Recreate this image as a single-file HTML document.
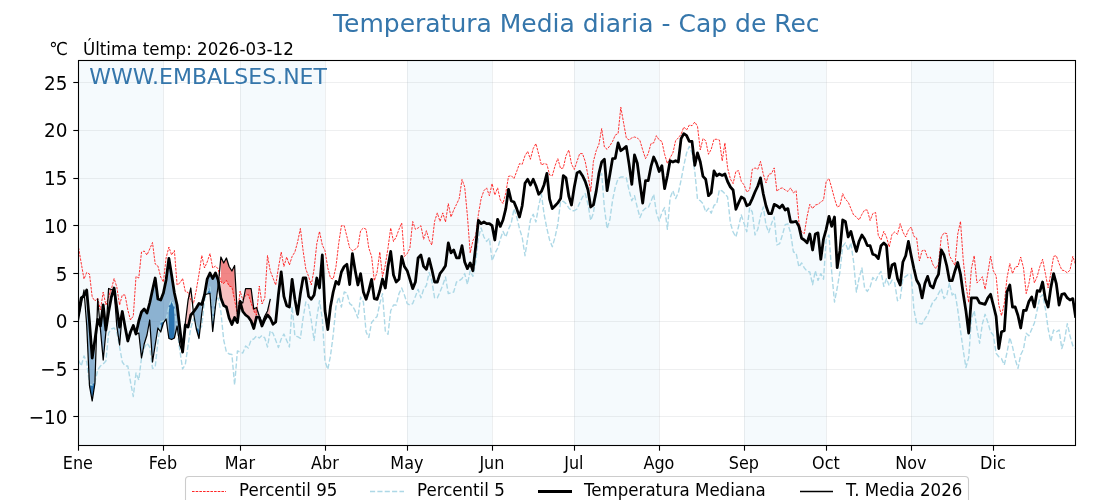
<!DOCTYPE html>
<html lang="es"><head><meta charset="utf-8"><title>Temperatura Media diaria - Cap de Rec</title>
<style>html,body{margin:0;padding:0;background:#fff;}body{width:1120px;height:500px;overflow:hidden;}svg{display:block;}text{font-family:"DejaVu Sans","Liberation Sans",sans-serif;}</style>
</head><body>
<svg width="1120" height="500" viewBox="0 0 1120 500">
<rect width="1120" height="500" fill="#ffffff"/>
<defs><clipPath id="ax"><rect x="78.5" y="60.5" width="997.0" height="385.0"/></clipPath></defs>
<g clip-path="url(#ax)">
<rect x="78.50" y="60.5" width="84.91" height="385.0" fill="#f5fafd"/>
<rect x="240.10" y="60.5" width="84.91" height="385.0" fill="#f5fafd"/>
<rect x="407.18" y="60.5" width="84.91" height="385.0" fill="#f5fafd"/>
<rect x="574.26" y="60.5" width="84.91" height="385.0" fill="#f5fafd"/>
<rect x="744.08" y="60.5" width="82.17" height="385.0" fill="#f5fafd"/>
<rect x="911.16" y="60.5" width="82.17" height="385.0" fill="#f5fafd"/>
<line x1="78.5" x2="1075.5" y1="416.50" y2="416.50" stroke="#aab0b6" stroke-opacity="0.2" stroke-width="1"/>
<line x1="78.5" x2="1075.5" y1="369.50" y2="369.50" stroke="#aab0b6" stroke-opacity="0.2" stroke-width="1"/>
<line x1="78.5" x2="1075.5" y1="321.50" y2="321.50" stroke="#aab0b6" stroke-opacity="0.2" stroke-width="1"/>
<line x1="78.5" x2="1075.5" y1="273.50" y2="273.50" stroke="#aab0b6" stroke-opacity="0.2" stroke-width="1"/>
<line x1="78.5" x2="1075.5" y1="225.50" y2="225.50" stroke="#aab0b6" stroke-opacity="0.2" stroke-width="1"/>
<line x1="78.5" x2="1075.5" y1="178.50" y2="178.50" stroke="#aab0b6" stroke-opacity="0.2" stroke-width="1"/>
<line x1="78.5" x2="1075.5" y1="130.50" y2="130.50" stroke="#aab0b6" stroke-opacity="0.2" stroke-width="1"/>
<line x1="78.5" x2="1075.5" y1="82.50" y2="82.50" stroke="#aab0b6" stroke-opacity="0.2" stroke-width="1"/>
<line x1="78.50" x2="78.50" y1="60.5" y2="445.5" stroke="#aab0b6" stroke-opacity="0.2" stroke-width="1"/>
<line x1="163.50" x2="163.50" y1="60.5" y2="445.5" stroke="#aab0b6" stroke-opacity="0.2" stroke-width="1"/>
<line x1="240.50" x2="240.50" y1="60.5" y2="445.5" stroke="#aab0b6" stroke-opacity="0.2" stroke-width="1"/>
<line x1="325.50" x2="325.50" y1="60.5" y2="445.5" stroke="#aab0b6" stroke-opacity="0.2" stroke-width="1"/>
<line x1="407.50" x2="407.50" y1="60.5" y2="445.5" stroke="#aab0b6" stroke-opacity="0.2" stroke-width="1"/>
<line x1="492.50" x2="492.50" y1="60.5" y2="445.5" stroke="#aab0b6" stroke-opacity="0.2" stroke-width="1"/>
<line x1="574.50" x2="574.50" y1="60.5" y2="445.5" stroke="#aab0b6" stroke-opacity="0.2" stroke-width="1"/>
<line x1="659.50" x2="659.50" y1="60.5" y2="445.5" stroke="#aab0b6" stroke-opacity="0.2" stroke-width="1"/>
<line x1="744.50" x2="744.50" y1="60.5" y2="445.5" stroke="#aab0b6" stroke-opacity="0.2" stroke-width="1"/>
<line x1="826.50" x2="826.50" y1="60.5" y2="445.5" stroke="#aab0b6" stroke-opacity="0.2" stroke-width="1"/>
<line x1="911.50" x2="911.50" y1="60.5" y2="445.5" stroke="#aab0b6" stroke-opacity="0.2" stroke-width="1"/>
<line x1="993.50" x2="993.50" y1="60.5" y2="445.5" stroke="#aab0b6" stroke-opacity="0.2" stroke-width="1"/>
<path d="M78.5 320.0 L81.2 305.0 L81.2 298.0 L78.5 313.0Z" fill="#4682b4" fill-opacity="0.6" stroke="none"/>
<path d="M86.7 325.0 L89.5 386.0 L92.2 401.0 L94.9 383.5 L94.9 340.0 L92.2 358.0 L89.5 322.0 L86.7 290.0Z" fill="#4682b4" fill-opacity="0.6" stroke="none"/>
<path d="M100.4 329.0 L103.2 360.0 L105.9 332.0 L105.9 330.0 L103.2 305.0 L100.4 326.0Z" fill="#4682b4" fill-opacity="0.6" stroke="none"/>
<path d="M114.1 290.0 L116.8 326.0 L119.6 345.0 L122.3 313.0 L122.3 311.5 L119.6 327.0 L116.8 308.0 L114.1 288.0Z" fill="#4682b4" fill-opacity="0.6" stroke="none"/>
<path d="M138.8 333.0 L141.5 358.0 L144.2 344.0 L147.0 335.0 L149.7 320.0 L152.5 362.0 L155.2 345.0 L157.9 328.0 L160.7 332.0 L163.4 323.0 L166.1 319.0 L168.9 338.5 L171.6 339.5 L174.4 338.0 L177.1 326.0 L179.8 345.0 L179.8 328.0 L177.1 305.0 L174.4 293.0 L171.6 275.0 L168.9 258.5 L166.1 280.0 L163.4 293.0 L160.7 300.0 L157.9 299.0 L155.2 278.0 L152.5 290.0 L149.7 303.0 L147.0 313.0 L144.2 309.0 L141.5 312.0 L138.8 321.0Z" fill="#4682b4" fill-opacity="0.6" stroke="none"/>
<path d="M193.5 313.0 L196.3 329.0 L199.0 338.5 L201.8 313.0 L201.8 304.5 L199.0 303.5 L196.3 308.0 L193.5 312.0Z" fill="#4682b4" fill-opacity="0.6" stroke="none"/>
<path d="M207.2 294.0 L210.0 293.5 L212.7 331.5 L215.5 306.0 L218.2 285.0 L218.2 280.0 L215.5 273.0 L212.7 278.5 L210.0 273.0 L207.2 279.0Z" fill="#4682b4" fill-opacity="0.6" stroke="none"/>
<path d="M89.5 386.0 L92.2 401.0 L94.9 383.5 L94.9 382.0 L92.2 385.0 L89.5 384.5Z" fill="#1f6cab" fill-opacity="0.9" stroke="none"/>
<path d="M160.7 332.0 L163.4 323.0 L163.4 321.0 L160.7 322.0Z" fill="#1f6cab" fill-opacity="0.9" stroke="none"/>
<path d="M168.9 338.5 L171.6 339.5 L174.4 338.0 L174.4 306.5 L171.6 300.0 L168.9 306.5Z" fill="#1f6cab" fill-opacity="0.9" stroke="none"/>
<path d="M196.3 329.0 L199.0 338.5 L199.0 330.0 L196.3 325.0Z" fill="#1f6cab" fill-opacity="0.9" stroke="none"/>
<path d="M207.2 294.0 L210.0 293.5 L212.7 331.5 L215.5 306.0 L215.5 300.0 L212.7 322.0 L210.0 287.0 L207.2 292.0Z" fill="#1f6cab" fill-opacity="0.9" stroke="none"/>
<path d="M108.6 288.5 L111.4 289.5 L111.4 297.0 L108.6 312.0Z" fill="#f08080" fill-opacity="0.5" stroke="none"/>
<path d="M185.3 323.0 L188.1 300.0 L190.8 288.0 L190.8 315.0 L188.1 327.0 L185.3 325.0Z" fill="#f08080" fill-opacity="0.5" stroke="none"/>
<path d="M220.9 257.0 L223.7 263.0 L226.4 258.0 L229.1 266.5 L231.9 271.0 L234.6 265.5 L237.4 317.0 L240.1 301.0 L242.8 303.0 L245.6 288.5 L248.3 288.5 L251.1 288.5 L253.8 309.0 L256.5 307.5 L259.3 316.0 L262.0 323.0 L264.8 316.0 L267.5 311.0 L270.2 299.5 L270.2 318.0 L267.5 315.0 L264.8 319.5 L262.0 326.0 L259.3 317.5 L256.5 317.0 L253.8 328.5 L251.1 321.0 L248.3 317.0 L245.6 315.0 L242.8 311.5 L240.1 301.5 L237.4 322.5 L234.6 317.5 L231.9 324.5 L229.1 318.0 L226.4 307.0 L223.7 305.5 L220.9 298.0Z" fill="#f08080" fill-opacity="0.5" stroke="none"/>
<path d="M220.9 257.0 L223.7 263.0 L226.4 258.0 L229.1 266.5 L231.9 271.0 L234.6 265.5 L234.6 300.0 L231.9 287.0 L229.1 286.0 L226.4 280.5 L223.7 283.5 L220.9 282.0Z" fill="#e84040" fill-opacity="0.45" stroke="none"/>
<path d="M245.6 288.5 L248.3 288.5 L251.1 288.5 L253.8 309.0 L256.5 307.5 L256.5 315.0 L253.8 311.0 L251.1 303.0 L248.3 294.5 L245.6 295.5Z" fill="#e84040" fill-opacity="0.45" stroke="none"/>
<path d="M78.5 247.5 L81.2 263.0 L84.0 279.0 L86.7 272.5 L89.5 274.0 L92.2 297.0 L94.9 301.0 L97.7 298.0 L100.4 310.0 L103.2 292.0 L105.9 305.0 L108.6 297.0 L111.4 289.0 L114.1 278.5 L116.8 287.0 L119.6 305.0 L122.3 295.0 L125.1 295.0 L127.8 310.0 L130.5 320.0 L133.3 316.0 L136.0 276.5 L138.8 278.0 L141.5 252.0 L144.2 251.0 L147.0 255.0 L149.7 249.0 L152.5 242.5 L155.2 264.0 L157.9 266.0 L160.7 277.0 L163.4 282.0 L166.1 258.0 L168.9 247.0 L171.6 255.0 L174.4 250.5 L177.1 285.0 L179.8 283.0 L182.6 278.5 L185.3 291.5 L188.1 292.5 L190.8 300.0 L193.5 303.5 L196.3 290.0 L199.0 274.0 L201.8 255.5 L204.5 268.0 L207.2 262.0 L210.0 253.5 L212.7 268.0 L215.5 266.0 L218.2 269.0 L220.9 282.0 L223.7 283.5 L226.4 280.5 L229.1 286.0 L231.9 287.0 L234.6 300.0 L237.4 314.0 L240.1 291.0 L242.8 300.0 L245.6 295.5 L248.3 294.5 L251.1 303.0 L253.8 311.0 L256.5 315.0 L259.3 286.0 L262.0 304.0 L264.8 298.0 L267.5 255.5 L270.2 270.7 L273.0 278.0 L275.7 285.0 L278.4 268.0 L281.2 252.0 L283.9 266.5 L286.7 257.0 L289.4 265.0 L292.1 256.5 L294.9 252.0 L297.6 242.0 L300.4 228.5 L303.1 250.7 L305.8 269.0 L308.6 276.5 L311.3 285.0 L314.1 269.0 L316.8 243.5 L319.5 231.5 L322.3 245.0 L325.0 250.7 L327.8 268.0 L330.5 278.0 L333.2 279.0 L336.0 266.5 L338.7 243.5 L341.4 225.7 L344.2 225.7 L346.9 236.5 L349.7 248.0 L352.4 250.7 L355.1 249.3 L357.9 247.0 L360.6 230.7 L363.4 228.0 L366.1 229.3 L368.8 248.0 L371.6 256.5 L374.3 280.7 L377.1 272.0 L379.8 252.0 L382.5 276.5 L385.3 265.0 L388.0 248.0 L390.7 228.0 L393.5 241.5 L396.2 237.0 L399.0 229.3 L401.7 223.0 L404.4 256.5 L407.2 253.6 L409.9 248.0 L412.7 221.5 L415.4 229.3 L418.1 228.0 L420.9 225.7 L423.6 239.3 L426.4 230.7 L429.1 240.0 L431.8 245.0 L434.6 221.4 L437.3 212.9 L440.0 221.4 L442.8 212.9 L445.5 222.0 L448.3 203.6 L451.0 217.0 L453.7 210.0 L456.5 204.3 L459.2 198.6 L462.0 179.5 L464.7 187.0 L467.4 215.7 L470.2 253.0 L472.9 240.7 L475.7 235.7 L478.4 214.3 L481.1 198.6 L483.9 190.7 L486.6 187.9 L489.4 195.7 L492.1 183.6 L494.8 195.0 L497.6 187.9 L500.3 200.0 L503.0 203.6 L505.8 193.0 L508.5 176.4 L511.3 175.7 L514.0 178.6 L516.7 171.4 L519.5 163.6 L522.2 164.3 L525.0 155.7 L527.7 151.4 L530.4 159.3 L533.2 148.6 L535.9 143.6 L538.7 154.3 L541.4 165.0 L544.1 163.6 L546.9 164.3 L549.6 175.0 L552.3 175.7 L555.1 165.7 L557.8 158.6 L560.6 168.6 L563.3 167.9 L566.0 155.7 L568.8 150.0 L571.5 164.0 L574.3 169.5 L577.0 161.4 L579.7 153.6 L582.5 153.6 L585.2 161.4 L588.0 175.7 L590.7 191.4 L593.4 161.4 L596.2 150.7 L598.9 144.3 L601.7 128.6 L604.4 147.0 L607.1 149.3 L609.9 145.7 L612.6 141.4 L615.3 135.0 L618.1 133.6 L620.8 107.2 L623.6 122.9 L626.3 137.9 L629.0 140.0 L631.8 137.9 L634.5 137.0 L637.3 137.9 L640.0 140.7 L642.7 150.0 L645.5 158.6 L648.2 153.6 L651.0 143.6 L653.7 142.9 L656.4 135.7 L659.2 140.0 L661.9 141.4 L664.6 154.3 L667.4 163.6 L670.1 157.9 L672.9 152.9 L675.6 140.7 L678.3 137.9 L681.1 134.3 L683.8 127.0 L686.6 130.0 L689.3 125.0 L692.0 125.7 L694.8 122.0 L697.5 126.4 L700.3 150.0 L703.0 138.6 L705.7 140.7 L708.5 154.3 L711.2 149.3 L714.0 139.3 L716.7 139.3 L719.4 140.0 L722.2 161.0 L724.9 142.9 L727.6 168.0 L730.4 179.0 L733.1 183.6 L735.9 171.4 L738.6 170.7 L741.3 181.4 L744.1 185.0 L746.8 192.0 L749.6 190.0 L752.3 169.3 L755.0 167.9 L757.8 169.3 L760.5 161.4 L763.3 174.3 L766.0 182.9 L768.7 174.3 L771.5 173.6 L774.2 167.9 L776.9 191.4 L779.7 188.6 L782.4 187.9 L785.2 190.0 L787.9 191.4 L790.6 187.9 L793.4 192.9 L796.1 190.7 L798.9 222.0 L801.6 232.0 L804.3 233.6 L807.1 216.4 L809.8 204.3 L812.6 208.6 L815.3 205.0 L818.0 204.3 L820.8 202.0 L823.5 200.0 L826.2 181.4 L829.0 178.6 L831.7 187.9 L834.5 198.6 L837.2 207.0 L839.9 205.7 L842.7 193.6 L845.4 199.3 L848.2 202.0 L850.9 208.6 L853.6 215.0 L856.4 217.0 L859.1 220.0 L861.9 214.3 L864.6 210.0 L867.3 210.0 L870.1 220.5 L872.8 213.6 L875.6 212.5 L878.3 235.5 L881.0 240.0 L883.8 231.4 L886.5 237.0 L889.2 247.0 L892.0 234.3 L894.7 232.0 L897.5 234.3 L900.2 223.6 L902.9 232.0 L905.7 237.0 L908.4 230.0 L911.2 227.0 L913.9 236.4 L916.6 237.9 L919.4 261.0 L922.1 250.7 L924.9 250.0 L927.6 257.9 L930.3 257.0 L933.1 265.0 L935.8 268.6 L938.5 264.0 L941.3 237.0 L944.0 232.9 L946.8 233.6 L949.5 255.7 L952.2 260.7 L955.0 265.4 L957.7 234.3 L960.5 221.4 L963.2 259.6 L965.9 285.0 L968.7 302.5 L971.4 268.6 L974.2 255.7 L976.9 282.9 L979.6 280.4 L982.4 276.7 L985.1 289.3 L987.9 272.9 L990.6 256.0 L993.3 270.7 L996.1 275.7 L998.8 305.0 L1001.5 315.7 L1004.3 303.4 L1007.0 277.9 L1009.8 263.6 L1012.5 273.6 L1015.2 267.0 L1018.0 266.4 L1020.7 257.0 L1023.5 267.9 L1026.2 293.6 L1028.9 283.6 L1031.7 267.9 L1034.4 282.9 L1037.2 276.4 L1039.9 266.4 L1042.6 259.3 L1045.4 273.6 L1048.1 287.9 L1050.8 273.6 L1053.6 256.4 L1056.3 255.7 L1059.1 263.6 L1061.8 270.0 L1064.5 270.7 L1067.3 272.9 L1070.0 270.0 L1072.8 256.4 L1075.5 264.3" fill="none" stroke="#ff0000" stroke-width="0.8" stroke-dasharray="2.57 1.11" stroke-linejoin="round"/>
<path d="M78.5 360.0 L81.2 366.0 L84.0 356.0 L86.7 362.0 L89.5 384.5 L92.2 385.0 L94.9 382.0 L97.7 370.0 L100.4 366.0 L103.2 364.0 L105.9 361.0 L108.6 333.0 L111.4 329.0 L114.1 328.0 L116.8 332.0 L119.6 347.0 L122.3 362.0 L125.1 366.0 L127.8 366.0 L130.5 382.0 L133.3 396.5 L136.0 373.0 L138.8 380.0 L141.5 358.0 L144.2 348.0 L147.0 343.0 L149.7 347.0 L152.5 368.5 L155.2 367.0 L157.9 342.0 L160.7 322.0 L163.4 321.0 L166.1 320.5 L168.9 306.5 L171.6 300.0 L174.4 306.5 L177.1 330.0 L179.8 350.0 L182.6 369.0 L185.3 364.5 L188.1 345.0 L190.8 328.0 L193.5 319.0 L196.3 325.0 L199.0 330.0 L201.8 326.0 L204.5 300.0 L207.2 292.0 L210.0 287.0 L212.7 322.0 L215.5 300.0 L218.2 298.0 L220.9 312.0 L223.7 340.0 L226.4 352.0 L229.1 354.0 L231.9 354.5 L234.6 385.0 L237.4 351.0 L240.1 352.0 L242.8 353.0 L245.6 346.0 L248.3 348.0 L251.1 340.0 L253.8 339.0 L256.5 336.0 L259.3 338.0 L262.0 335.5 L264.8 338.0 L267.5 347.0 L270.2 330.7 L273.0 333.3 L275.7 340.3 L278.4 347.5 L281.2 339.0 L283.9 334.0 L286.7 340.5 L289.4 347.0 L292.1 306.4 L294.9 336.0 L297.6 336.7 L300.4 338.3 L303.1 318.0 L305.8 302.0 L308.6 305.0 L311.3 320.5 L314.1 340.5 L316.8 318.0 L319.5 300.7 L322.3 318.5 L325.0 361.4 L327.8 369.3 L330.5 355.7 L333.2 335.0 L336.0 306.4 L338.7 297.0 L341.4 307.0 L344.2 292.0 L346.9 293.0 L349.7 303.6 L352.4 305.7 L355.1 310.7 L357.9 318.0 L360.6 297.0 L363.4 302.0 L366.1 332.0 L368.8 337.5 L371.6 322.5 L374.3 319.3 L377.1 316.4 L379.8 303.6 L382.5 293.6 L385.3 331.0 L388.0 334.3 L390.7 310.7 L393.5 305.0 L396.2 305.0 L399.0 293.6 L401.7 288.0 L404.4 295.0 L407.2 303.6 L409.9 305.0 L412.7 303.6 L415.4 296.4 L418.1 289.3 L420.9 297.9 L423.6 289.3 L426.4 285.5 L429.1 272.5 L431.8 280.7 L434.6 297.9 L437.3 297.9 L440.0 292.0 L442.8 285.0 L445.5 277.0 L448.3 293.6 L451.0 292.9 L453.7 292.0 L456.5 282.0 L459.2 280.7 L462.0 278.6 L464.7 273.6 L467.4 284.3 L470.2 270.7 L472.9 276.4 L475.7 262.0 L478.4 238.0 L481.1 227.9 L483.9 237.0 L486.6 241.4 L489.4 238.3 L492.1 260.7 L494.8 253.6 L497.6 248.3 L500.3 239.3 L503.0 231.4 L505.8 237.0 L508.5 229.3 L511.3 222.9 L514.0 208.6 L516.7 217.0 L519.5 228.6 L522.2 237.5 L525.0 255.7 L527.7 238.0 L530.4 220.0 L533.2 214.3 L535.9 222.0 L538.7 205.7 L541.4 194.3 L544.1 214.3 L546.9 228.6 L549.6 240.0 L552.3 246.7 L555.1 237.0 L557.8 224.3 L560.6 201.4 L563.3 201.4 L566.0 203.6 L568.8 207.9 L571.5 210.7 L574.3 210.7 L577.0 209.0 L579.7 202.9 L582.5 197.0 L585.2 193.6 L588.0 204.3 L590.7 220.4 L593.4 213.2 L596.2 192.9 L598.9 177.0 L601.7 173.6 L604.4 208.0 L607.1 228.6 L609.9 219.5 L612.6 200.0 L615.3 187.0 L618.1 178.6 L620.8 177.0 L623.6 177.0 L626.3 177.9 L629.0 190.0 L631.8 200.7 L634.5 195.7 L637.3 207.5 L640.0 217.5 L642.7 211.0 L645.5 208.3 L648.2 207.9 L651.0 201.4 L653.7 194.3 L656.4 212.5 L659.2 221.0 L661.9 212.5 L664.6 207.5 L667.4 229.3 L670.1 198.0 L672.9 190.7 L675.6 198.6 L678.3 192.9 L681.1 180.0 L683.8 165.7 L686.6 152.9 L689.3 146.4 L692.0 153.0 L694.8 171.4 L697.5 199.3 L700.3 200.7 L703.0 203.6 L705.7 212.0 L708.5 208.3 L711.2 213.2 L714.0 205.4 L716.7 203.6 L719.4 189.7 L722.2 191.0 L724.9 193.6 L727.6 197.0 L730.4 223.0 L733.1 232.0 L735.9 237.0 L738.6 226.4 L741.3 215.0 L744.1 223.6 L746.8 231.7 L749.6 207.9 L752.3 212.0 L755.0 235.0 L757.8 229.3 L760.5 216.4 L763.3 207.0 L766.0 225.0 L768.7 232.5 L771.5 223.6 L774.2 217.0 L776.9 245.0 L779.7 243.6 L782.4 235.0 L785.2 224.6 L787.9 223.8 L790.6 233.0 L793.4 252.0 L796.1 252.9 L798.9 267.0 L801.6 262.9 L804.3 267.9 L807.1 271.4 L809.8 272.0 L812.6 284.7 L815.3 270.7 L818.0 280.4 L820.8 273.6 L823.5 279.3 L826.2 239.3 L829.0 235.0 L831.7 272.0 L834.5 302.0 L837.2 288.0 L839.9 272.0 L842.7 246.4 L845.4 242.9 L848.2 250.7 L850.9 242.9 L853.6 262.0 L856.4 292.0 L859.1 278.0 L861.9 268.0 L864.6 288.0 L867.3 291.4 L870.1 287.0 L872.8 277.5 L875.6 281.0 L878.3 275.0 L881.0 271.4 L883.8 286.4 L886.5 278.6 L889.2 285.7 L892.0 280.0 L894.7 282.9 L897.5 300.7 L900.2 298.6 L902.9 278.6 L905.7 276.4 L908.4 274.3 L911.2 275.0 L913.9 309.3 L916.6 323.0 L919.4 323.5 L922.1 324.0 L924.9 319.0 L927.6 315.0 L930.3 307.9 L933.1 301.4 L935.8 299.3 L938.5 293.6 L941.3 288.6 L944.0 298.6 L946.8 295.0 L949.5 282.9 L952.2 295.0 L955.0 292.9 L957.7 309.3 L960.5 330.7 L963.2 350.0 L965.9 367.5 L968.7 357.5 L971.4 319.0 L974.2 310.7 L976.9 328.2 L979.6 343.2 L982.4 323.6 L985.1 314.3 L987.9 322.5 L990.6 332.0 L993.3 335.0 L996.1 353.3 L998.8 356.7 L1001.5 358.6 L1004.3 365.0 L1007.0 352.5 L1009.8 337.5 L1012.5 346.7 L1015.2 359.3 L1018.0 368.3 L1020.7 354.7 L1023.5 349.3 L1026.2 333.3 L1028.9 335.7 L1031.7 329.3 L1034.4 322.9 L1037.2 310.0 L1039.9 297.5 L1042.6 294.7 L1045.4 308.6 L1048.1 328.6 L1050.8 341.4 L1053.6 330.0 L1056.3 332.0 L1059.1 330.0 L1061.8 348.6 L1064.5 340.0 L1067.3 323.6 L1070.0 335.7 L1072.8 345.7 L1075.5 348.6" fill="none" stroke="#add8e6" stroke-width="1.39" stroke-dasharray="5.14 2.22" stroke-linejoin="round"/>
<path d="M78.5 313.0 L81.2 298.0 L84.0 296.0 L86.7 290.0 L89.5 322.0 L92.2 358.0 L94.9 340.0 L97.7 319.5 L100.4 326.0 L103.2 305.0 L105.9 330.0 L108.6 312.0 L111.4 297.0 L114.1 288.0 L116.8 308.0 L119.6 327.0 L122.3 311.5 L125.1 327.0 L127.8 341.0 L130.5 332.0 L133.3 325.5 L136.0 334.0 L138.8 321.0 L141.5 312.0 L144.2 309.0 L147.0 313.0 L149.7 303.0 L152.5 290.0 L155.2 278.0 L157.9 299.0 L160.7 300.0 L163.4 293.0 L166.1 280.0 L168.9 258.5 L171.6 275.0 L174.4 293.0 L177.1 305.0 L179.8 328.0 L182.6 352.0 L185.3 325.0 L188.1 327.0 L190.8 315.0 L193.5 312.0 L196.3 308.0 L199.0 303.5 L201.8 304.5 L204.5 295.0 L207.2 279.0 L210.0 273.0 L212.7 278.5 L215.5 273.0 L218.2 280.0 L220.9 298.0 L223.7 305.5 L226.4 307.0 L229.1 318.0 L231.9 324.5 L234.6 317.5 L237.4 322.5 L240.1 301.5 L242.8 311.5 L245.6 315.0 L248.3 317.0 L251.1 321.0 L253.8 328.5 L256.5 317.0 L259.3 317.5 L262.0 326.0 L264.8 319.5 L267.5 315.0 L270.2 318.0 L273.0 324.3 L275.7 322.0 L278.4 295.0 L281.2 272.0 L283.9 296.4 L286.7 305.7 L289.4 307.0 L292.1 279.3 L294.9 299.3 L297.6 314.3 L300.4 293.6 L303.1 278.0 L305.8 278.0 L308.6 296.4 L311.3 299.3 L314.1 295.0 L316.8 278.0 L319.5 288.0 L322.3 255.0 L325.0 310.7 L327.8 329.5 L330.5 306.4 L333.2 292.0 L336.0 281.4 L338.7 284.3 L341.4 272.0 L344.2 266.5 L346.9 264.3 L349.7 284.5 L352.4 253.6 L355.1 270.0 L357.9 285.0 L360.6 273.6 L363.4 292.0 L366.1 299.3 L368.8 290.7 L371.6 279.3 L374.3 298.6 L377.1 299.3 L379.8 290.7 L382.5 279.0 L385.3 288.0 L388.0 266.5 L390.7 251.4 L393.5 275.0 L396.2 282.0 L399.0 279.3 L401.7 256.5 L404.4 266.5 L407.2 270.7 L409.9 279.3 L412.7 288.6 L415.4 282.0 L418.1 258.0 L420.9 255.0 L423.6 266.4 L426.4 269.3 L429.1 258.6 L431.8 269.3 L434.6 282.0 L437.3 282.0 L440.0 273.6 L442.8 270.0 L445.5 265.7 L448.3 242.9 L451.0 252.9 L453.7 250.0 L456.5 257.9 L459.2 257.9 L462.0 245.7 L464.7 262.0 L467.4 268.6 L470.2 262.9 L472.9 270.7 L475.7 246.4 L478.4 220.3 L481.1 223.6 L483.9 222.0 L486.6 223.6 L489.4 223.6 L492.1 225.7 L494.8 240.0 L497.6 219.3 L500.3 226.4 L503.0 220.0 L505.8 208.6 L508.5 189.3 L511.3 201.0 L514.0 202.0 L516.7 208.6 L519.5 217.0 L522.2 205.7 L525.0 183.3 L527.7 179.3 L530.4 185.0 L533.2 179.3 L535.9 185.7 L538.7 194.3 L541.4 191.4 L544.1 184.7 L546.9 173.3 L549.6 199.0 L552.3 208.6 L555.1 205.7 L557.8 202.9 L560.6 198.6 L563.3 175.7 L566.0 177.9 L568.8 196.0 L571.5 205.0 L574.3 187.0 L577.0 172.9 L579.7 171.4 L582.5 175.7 L585.2 181.4 L588.0 190.0 L590.7 207.0 L593.4 205.0 L596.2 191.4 L598.9 173.6 L601.7 162.0 L604.4 159.3 L607.1 190.7 L609.9 174.3 L612.6 158.6 L615.3 158.3 L618.1 142.9 L620.8 150.7 L623.6 148.6 L626.3 146.4 L629.0 163.6 L631.8 184.3 L634.5 155.0 L637.3 163.3 L640.0 183.6 L642.7 203.0 L645.5 180.7 L648.2 180.7 L651.0 166.4 L653.7 157.0 L656.4 162.9 L659.2 171.5 L661.9 165.7 L664.6 188.6 L667.4 175.7 L670.1 160.7 L672.9 162.0 L675.6 160.7 L678.3 162.0 L681.1 138.6 L683.8 133.6 L686.6 135.7 L689.3 141.4 L692.0 141.4 L694.8 165.3 L697.5 152.9 L700.3 162.0 L703.0 176.4 L705.7 179.3 L708.5 195.7 L711.2 192.9 L714.0 171.0 L716.7 175.7 L719.4 174.0 L722.2 175.4 L724.9 174.0 L727.6 181.5 L730.4 187.0 L733.1 190.0 L735.9 209.3 L738.6 202.9 L741.3 197.0 L744.1 198.6 L746.8 205.7 L749.6 204.3 L752.3 198.6 L755.0 192.0 L757.8 186.0 L760.5 177.9 L763.3 194.0 L766.0 205.7 L768.7 213.6 L771.5 213.6 L774.2 204.3 L776.9 205.7 L779.7 207.9 L782.4 205.0 L785.2 210.0 L787.9 208.6 L790.6 222.0 L793.4 222.0 L796.1 221.4 L798.9 226.4 L801.6 238.3 L804.3 240.0 L807.1 242.9 L809.8 234.0 L812.6 250.0 L815.3 234.0 L818.0 232.9 L820.8 259.3 L823.5 239.0 L826.2 229.3 L829.0 216.4 L831.7 226.4 L834.5 217.0 L837.2 267.7 L839.9 250.7 L842.7 220.0 L845.4 221.4 L848.2 237.0 L850.9 231.4 L853.6 242.0 L856.4 251.4 L859.1 241.2 L861.9 235.0 L864.6 239.0 L867.3 245.5 L870.1 245.7 L872.8 254.3 L875.6 255.3 L878.3 258.6 L881.0 245.7 L883.8 242.9 L886.5 245.7 L889.2 277.9 L892.0 265.0 L894.7 263.6 L897.5 278.6 L900.2 285.0 L902.9 262.0 L905.7 255.7 L908.4 241.4 L911.2 255.7 L913.9 268.6 L916.6 280.0 L919.4 285.0 L922.1 297.9 L924.9 283.6 L927.6 276.4 L930.3 285.7 L933.1 287.9 L935.8 279.3 L938.5 274.3 L941.3 250.0 L944.0 255.0 L946.8 266.0 L949.5 280.7 L952.2 280.7 L955.0 270.7 L957.7 262.5 L960.5 274.3 L963.2 293.6 L965.9 310.7 L968.7 333.0 L971.4 297.9 L974.2 297.9 L976.9 297.9 L979.6 302.9 L982.4 303.6 L985.1 304.3 L987.9 297.9 L990.6 294.3 L993.3 305.0 L996.1 316.4 L998.8 348.5 L1001.5 331.7 L1004.3 330.7 L1007.0 292.0 L1009.8 285.0 L1012.5 307.0 L1015.2 307.0 L1018.0 315.5 L1020.7 328.0 L1023.5 310.5 L1026.2 310.3 L1028.9 301.5 L1031.7 297.0 L1034.4 307.0 L1037.2 290.7 L1039.9 291.4 L1042.6 282.0 L1045.4 299.3 L1048.1 307.0 L1050.8 287.9 L1053.6 273.6 L1056.3 283.6 L1059.1 305.0 L1061.8 294.3 L1064.5 293.6 L1067.3 297.9 L1070.0 300.0 L1072.8 298.6 L1075.5 316.5" fill="none" stroke="#000" stroke-width="2.78" stroke-linejoin="round" stroke-linecap="square"/>
<path d="M78.5 320.0 L81.2 305.0 L84.0 290.0 L86.7 325.0 L89.5 386.0 L92.2 401.0 L94.9 383.5 L97.7 299.0 L100.4 329.0 L103.2 360.0 L105.9 332.0 L108.6 288.5 L111.4 289.5 L114.1 290.0 L116.8 326.0 L119.6 345.0 L122.3 313.0 L125.1 327.0 L127.8 340.0 L130.5 332.0 L133.3 325.0 L136.0 334.0 L138.8 333.0 L141.5 358.0 L144.2 344.0 L147.0 335.0 L149.7 320.0 L152.5 362.0 L155.2 345.0 L157.9 328.0 L160.7 332.0 L163.4 323.0 L166.1 319.0 L168.9 338.5 L171.6 339.5 L174.4 338.0 L177.1 326.0 L179.8 345.0 L182.6 352.0 L185.3 323.0 L188.1 300.0 L190.8 288.0 L193.5 313.0 L196.3 329.0 L199.0 338.5 L201.8 313.0 L204.5 295.0 L207.2 294.0 L210.0 293.5 L212.7 331.5 L215.5 306.0 L218.2 285.0 L220.9 257.0 L223.7 263.0 L226.4 258.0 L229.1 266.5 L231.9 271.0 L234.6 265.5 L237.4 317.0 L240.1 301.0 L242.8 303.0 L245.6 288.5 L248.3 288.5 L251.1 288.5 L253.8 309.0 L256.5 307.5 L259.3 316.0 L262.0 323.0 L264.8 316.0 L267.5 311.0 L270.2 299.5" fill="none" stroke="#000" stroke-width="1.25" stroke-linejoin="round" stroke-linecap="square"/>
</g>
<rect x="78.5" y="60.5" width="997.0" height="385.0" fill="none" stroke="#000" stroke-width="1.1"/>
<line x1="73.3" x2="78.5" y1="416.50" y2="416.50" stroke="#000" stroke-width="1.1"/>
<text transform="translate(67.50 424.10) scale(0.95 1)" font-size="19.4" text-anchor="end" fill="#000">−10</text>
<line x1="73.3" x2="78.5" y1="369.50" y2="369.50" stroke="#000" stroke-width="1.1"/>
<text transform="translate(67.50 376.10) scale(0.95 1)" font-size="19.4" text-anchor="end" fill="#000">−5</text>
<line x1="73.3" x2="78.5" y1="321.50" y2="321.50" stroke="#000" stroke-width="1.1"/>
<text transform="translate(67.50 328.10) scale(0.95 1)" font-size="19.4" text-anchor="end" fill="#000">0</text>
<line x1="73.3" x2="78.5" y1="273.50" y2="273.50" stroke="#000" stroke-width="1.1"/>
<text transform="translate(67.50 281.10) scale(0.95 1)" font-size="19.4" text-anchor="end" fill="#000">5</text>
<line x1="73.3" x2="78.5" y1="225.50" y2="225.50" stroke="#000" stroke-width="1.1"/>
<text transform="translate(67.50 233.10) scale(0.95 1)" font-size="19.4" text-anchor="end" fill="#000">10</text>
<line x1="73.3" x2="78.5" y1="178.50" y2="178.50" stroke="#000" stroke-width="1.1"/>
<text transform="translate(67.50 185.10) scale(0.95 1)" font-size="19.4" text-anchor="end" fill="#000">15</text>
<line x1="73.3" x2="78.5" y1="130.50" y2="130.50" stroke="#000" stroke-width="1.1"/>
<text transform="translate(67.50 137.10) scale(0.95 1)" font-size="19.4" text-anchor="end" fill="#000">20</text>
<line x1="73.3" x2="78.5" y1="82.50" y2="82.50" stroke="#000" stroke-width="1.1"/>
<text transform="translate(67.50 90.10) scale(0.95 1)" font-size="19.4" text-anchor="end" fill="#000">25</text>
<line x1="78.50" x2="78.50" y1="445.5" y2="450.7" stroke="#000" stroke-width="1.1"/>
<text transform="translate(77.90 469.40) scale(0.9 1)" font-size="17.8" text-anchor="middle" fill="#000">Ene</text>
<line x1="163.50" x2="163.50" y1="445.5" y2="450.7" stroke="#000" stroke-width="1.1"/>
<text transform="translate(162.90 469.40) scale(0.9 1)" font-size="17.8" text-anchor="middle" fill="#000">Feb</text>
<line x1="240.50" x2="240.50" y1="445.5" y2="450.7" stroke="#000" stroke-width="1.1"/>
<text transform="translate(239.90 469.40) scale(0.9 1)" font-size="17.8" text-anchor="middle" fill="#000">Mar</text>
<line x1="325.50" x2="325.50" y1="445.5" y2="450.7" stroke="#000" stroke-width="1.1"/>
<text transform="translate(324.90 469.40) scale(0.9 1)" font-size="17.8" text-anchor="middle" fill="#000">Abr</text>
<line x1="407.50" x2="407.50" y1="445.5" y2="450.7" stroke="#000" stroke-width="1.1"/>
<text transform="translate(406.90 469.40) scale(0.9 1)" font-size="17.8" text-anchor="middle" fill="#000">May</text>
<line x1="492.50" x2="492.50" y1="445.5" y2="450.7" stroke="#000" stroke-width="1.1"/>
<text transform="translate(491.90 469.40) scale(0.9 1)" font-size="17.8" text-anchor="middle" fill="#000">Jun</text>
<line x1="574.50" x2="574.50" y1="445.5" y2="450.7" stroke="#000" stroke-width="1.1"/>
<text transform="translate(573.90 469.40) scale(0.9 1)" font-size="17.8" text-anchor="middle" fill="#000">Jul</text>
<line x1="659.50" x2="659.50" y1="445.5" y2="450.7" stroke="#000" stroke-width="1.1"/>
<text transform="translate(658.90 469.40) scale(0.9 1)" font-size="17.8" text-anchor="middle" fill="#000">Ago</text>
<line x1="744.50" x2="744.50" y1="445.5" y2="450.7" stroke="#000" stroke-width="1.1"/>
<text transform="translate(743.90 469.40) scale(0.9 1)" font-size="17.8" text-anchor="middle" fill="#000">Sep</text>
<line x1="826.50" x2="826.50" y1="445.5" y2="450.7" stroke="#000" stroke-width="1.1"/>
<text transform="translate(825.90 469.40) scale(0.9 1)" font-size="17.8" text-anchor="middle" fill="#000">Oct</text>
<line x1="911.50" x2="911.50" y1="445.5" y2="450.7" stroke="#000" stroke-width="1.1"/>
<text transform="translate(910.90 469.40) scale(0.9 1)" font-size="17.8" text-anchor="middle" fill="#000">Nov</text>
<line x1="993.50" x2="993.50" y1="445.5" y2="450.7" stroke="#000" stroke-width="1.1"/>
<text transform="translate(992.90 469.40) scale(0.9 1)" font-size="17.8" text-anchor="middle" fill="#000">Dic</text>
<text x="576.30" y="32.00" font-size="25" text-anchor="middle" fill="#3576ab">Temperatura Media diaria - Cap de Rec</text>
<text transform="translate(49.20 54.60) scale(0.936 1)" font-size="17.8" text-anchor="start" fill="#000">℃</text>
<text transform="translate(83.00 54.60) scale(0.936 1)" font-size="17.8" text-anchor="start" fill="#000">Última temp: 2026-03-12</text>
<text x="89.30" y="84.20" font-size="22.0" text-anchor="start" fill="#3576ab">WWW.EMBALSES.NET</text>
<rect x="185.5" y="476.5" width="783" height="40" rx="3.5" fill="#fff" fill-opacity="0.8" stroke="#ccc" stroke-width="1.1"/>
<line x1="192" x2="226" y1="491.5" y2="491.5" stroke="#ff0000" stroke-width="0.85" stroke-dasharray="2.57 1.11"/>
<text transform="translate(239.00 496.30) scale(0.936 1)" font-size="17.8" text-anchor="start" fill="#000">Percentil 95</text>
<line x1="370" x2="404" y1="491.5" y2="491.5" stroke="#add8e6" stroke-width="1.39" stroke-dasharray="5.14 2.22"/>
<text transform="translate(417.00 496.30) scale(0.936 1)" font-size="17.8" text-anchor="start" fill="#000">Percentil 5</text>
<line x1="538" x2="572" y1="491.5" y2="491.5" stroke="#000" stroke-width="2.78"/>
<text transform="translate(584.00 496.30) scale(0.936 1)" font-size="17.8" text-anchor="start" fill="#000">Temperatura Mediana</text>
<line x1="800" x2="833" y1="491.5" y2="491.5" stroke="#000" stroke-width="1.39"/>
<text transform="translate(846.00 496.30) scale(0.936 1)" font-size="17.8" text-anchor="start" fill="#000">T. Media 2026</text>
</svg>
</body></html>
